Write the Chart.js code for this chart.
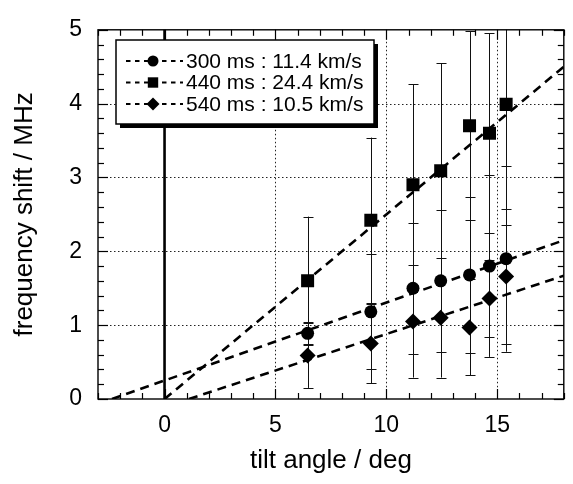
<!DOCTYPE html>
<html>
<head>
<meta charset="utf-8">
<script src="https://cdn.jsdelivr.net/npm/chart.js@4.4.1/dist/chart.umd.min.js"></script>
<style>
  html, body { margin: 0; padding: 0; background: #fff; }
</style>
</head>
<body>
<canvas id="chart" width="573" height="484"></canvas>
<script>
// data
const tiltAngles = [6.45, 9.3, 11.2, 12.45, 13.75, 14.65, 15.4];

const shift300 = [0.89, 1.18, 1.50, 1.60, 1.68, 1.80, 1.90];
const err300   = [0.15, 0.78, 0.89, 0.96, 1.06, 1.23, 1.26];

const shift440 = [1.60, 2.42, 2.90, 3.09, 3.70, 3.60, 3.99];
const err440   = [0.87, 1.12, 1.36, 1.46, 1.28, 1.35, 1.64];

const shift540 = [0.59, 0.75, 1.05, 1.10, 0.97, 1.36, 1.66];
const err540   = [0.44, 0.54, 0.76, 0.81, 0.65, 0.52, 0.91];

// linear fits (dashed lines)
const fit300X = [-2.37, 18];
const fit300Y = [0, 2.15];
const fit440X = [0, 18];
const fit440Y = [0, 4.5];
const fit540X = [1.1, 18];
const fit540Y = [0, 1.67];

const legendLabels = ['300 ms : 11.4 km/s', '440 ms : 24.4 km/s', '540 ms : 10.5 km/s'];

const xMajorTicks = [0, 5, 10, 15];
const yMajorTicks = [0, 1, 2, 3, 4, 5];

const FONT = '"Liberation Sans", Arial, Helvetica, sans-serif';

function pts(xs, ys) {
    return xs.map((x, i) => ({ x: x, y: ys[i] }));
}

const series = [
    { label: legendLabels[0], values: shift300, errors: err300, style: 'circle', radius: 6.5 },
    { label: legendLabels[1], values: shift440, errors: err440, style: 'rect', radius: 9.2 },
    { label: legendLabels[2], values: shift540, errors: err540, style: 'rectRot', radius: 8 }
];
const fits = [[fit300X, fit300Y], [fit440X, fit440Y], [fit540X, fit540Y]];

const datasets = [];
series.forEach((s, k) => {
    datasets.push({
        label: s.label,
        data: pts(tiltAngles, s.values),
        pointStyle: s.style,
        pointRadius: s.radius,
        backgroundColor: '#000',
        borderColor: '#000',
        pointBorderWidth: 0,
        showLine: false,
        order: 1
    });
    datasets.push({
        label: s.label + ' fit',
        data: pts(fits[k][0], fits[k][1]),
        showLine: true,
        pointRadius: 0,
        borderColor: '#000',
        borderWidth: 2.6,
        borderDash: [9, 6],
        fill: false,
        order: 2
    });
});

function seg(ctx, x1, y1, x2, y2) {
    ctx.beginPath();
    ctx.moveTo(x1, y1);
    ctx.lineTo(x2, y2);
    ctx.stroke();
}

function marker(ctx, style, r, cx, cy) {
    ctx.beginPath();
    if (style === 'circle') {
        ctx.arc(cx, cy, r, 0, Math.PI * 2);
    } else if (style === 'rect') {
        ctx.rect(cx - r, cy - r, 2 * r, 2 * r);
    } else {
        ctx.moveTo(cx, cy - r);
        ctx.lineTo(cx + r, cy);
        ctx.lineTo(cx, cy + r);
        ctx.lineTo(cx - r, cy);
        ctx.closePath();
    }
    ctx.fill();
}

// grid, zero line and error bars under the data
const underlay = {
    id: 'underlay',
    beforeDatasetsDraw(chart) {
        const { ctx, chartArea: a, scales: { x, y } } = chart;
        ctx.save();
        ctx.strokeStyle = '#222';
        ctx.lineWidth = 1;
        ctx.setLineDash([1.5, 2.5]);
        xMajorTicks.filter(v => v !== 0).forEach(v => {
            const px = Math.round(x.getPixelForValue(v)) + 0.5;
            seg(ctx, px, a.top, px, a.bottom);
        });
        yMajorTicks.filter(v => v > 0 && v < 5).forEach(v => {
            const py = Math.round(y.getPixelForValue(v)) + 0.5;
            seg(ctx, a.left, py, a.right, py);
        });
        ctx.setLineDash([]);

        // solid line at zero tilt
        ctx.lineWidth = 2.6;
        ctx.strokeStyle = '#000';
        const x0 = x.getPixelForValue(0);
        seg(ctx, x0, a.top, x0, a.bottom);

        // error bars
        ctx.beginPath();
        ctx.rect(a.left, a.top, a.right - a.left, a.bottom - a.top);
        ctx.clip();
        ctx.lineWidth = 1;
        ctx.strokeStyle = '#111';
        series.forEach(s => {
            tiltAngles.forEach((t, i) => {
                const px = Math.round(x.getPixelForValue(t)) + 0.5;
                const hi = y.getPixelForValue(s.values[i] + s.errors[i]);
                const lo = y.getPixelForValue(s.values[i] - s.errors[i]);
                seg(ctx, px, hi, px, lo);
                seg(ctx, px - 5, Math.round(hi) + 0.5, px + 5, Math.round(hi) + 0.5);
                seg(ctx, px - 5, Math.round(lo) + 0.5, px + 5, Math.round(lo) + 0.5);
            });
        });
        ctx.restore();
    },

    // frame with inward ticks, then the boxed legend
    afterDatasetsDraw(chart) {
        const { ctx, chartArea: a, scales: { x, y } } = chart;
        ctx.save();
        ctx.strokeStyle = '#000';
        ctx.lineWidth = 1.4;
        ctx.strokeRect(a.left, a.top, a.right - a.left, a.bottom - a.top);

        ctx.lineWidth = 1.2;
        for (let v = -3; v <= 18; v++) {
            const px = Math.round(x.getPixelForValue(v)) + 0.5;
            const len = v % 5 === 0 ? 10 : 6;
            seg(ctx, px, a.bottom, px, a.bottom - len);
            seg(ctx, px, a.top, px, a.top + len);
        }
        for (let k = 0; k <= 25; k++) {
            const py = Math.round(y.getPixelForValue(k * 0.2)) + 0.5;
            const len = k % 5 === 0 ? 10 : 6;
            seg(ctx, a.left, py, a.left + len, py);
            seg(ctx, a.right, py, a.right - len, py);
        }

        // legend box with drop shadow
        const bx = 116, by = 40, bw = 258, bh = 84;
        ctx.fillStyle = '#000';
        ctx.fillRect(bx + 4, by + 4, bw, bh);
        ctx.fillStyle = '#fff';
        ctx.fillRect(bx, by, bw, bh);
        ctx.lineWidth = 1.5;
        ctx.strokeRect(bx, by, bw, bh);

        ctx.font = '21px ' + FONT;
        ctx.textBaseline = 'middle';
        ctx.textAlign = 'left';
        series.forEach((s, k) => {
            const ly = 61 + k * 21.5;
            ctx.strokeStyle = '#000';
            ctx.lineWidth = 2;
            ctx.setLineDash([4.5, 4.5]);
            seg(ctx, 126, ly, 183, ly);
            ctx.setLineDash([]);
            ctx.fillStyle = '#000';
            const r = s.style === 'circle' ? 5.5 : (s.style === 'rect' ? 5.2 : 6.5);
            marker(ctx, s.style, r, 153, ly);
            ctx.fillText(s.label, 186, ly + 1);
        });
        ctx.restore();
    }
};

new Chart(document.getElementById('chart'), {
    type: 'scatter',
    data: { datasets: datasets },
    options: {
        responsive: false,
        animation: false,
        layout: { padding: { top: 16, right: 1, left: 0, bottom: 0 } },
        scales: {
            x: {
                type: 'linear',
                min: -3,
                max: 18,
                afterFit: s => { s.height = 85; },
                afterBuildTicks: s => { s.ticks = xMajorTicks.map(v => ({ value: v })); },
                ticks: {
                    stepSize: 5,
                    includeBounds: false,
                    color: '#000',
                    padding: 13,
                    maxRotation: 0,
                    font: { size: 23, family: FONT }
                },
                grid: { display: false, drawTicks: false },
                border: { display: false },
                title: {
                    display: true,
                    text: 'tilt angle / deg',
                    color: '#000',
                    font: { size: 26, family: FONT },
                    padding: { top: 0, bottom: 8 }
                }
            },
            y: {
                type: 'linear',
                min: 0,
                max: 5,
                afterFit: s => { s.width = 98; },
                afterBuildTicks: s => { s.ticks = yMajorTicks.map(v => ({ value: v })); },
                ticks: {
                    stepSize: 1,
                    color: '#000',
                    padding: 16,
                    font: { size: 23, family: FONT }
                },
                grid: { display: false, drawTicks: false },
                border: { display: false },
                title: {
                    display: true,
                    text: 'frequency shift / MHz',
                    color: '#000',
                    font: { size: 26, family: FONT },
                    padding: { top: 9, bottom: 0 }
                }
            }
        },
        plugins: {
            legend: { display: false },
            tooltip: { enabled: false }
        }
    },
    plugins: [underlay]
});
</script>
</body>
</html>
